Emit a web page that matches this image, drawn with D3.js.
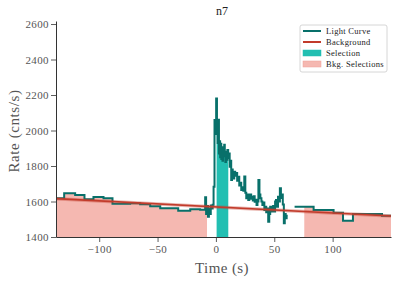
<!DOCTYPE html>
<html>
<head>
<meta charset="utf-8">
<script src="https://cdn.jsdelivr.net/npm/d3@7"></script>
<style>
  body { margin: 0; background: #fff; }
  svg { font-family: "Liberation Serif", "DejaVu Serif", serif; }
</style>
</head>
<body>
<div id="chart"></div>
<script>
const width = 397;
const height = 281;

// light curve: bin start times (s), rates (cnts/s), last bin end
const preTimes = [-137, -130, -120.6, -112.6, -104.9, -96.3, -88.6, -73.5, -64.9, -56.3, -47.7, -32.3, -22, -13.5,
  -9.2, -8.4, -7.6, -6.8, -6.0, -5.2, -4.4, -3.6, -2.8, -2.0, -1.2, -0.4, 0.2, 0.9, 1.5, 2.1, 2.6, 3.1, 3.6, 4.1,
  4.6, 5.1, 5.6, 6.1, 6.6, 7.1, 7.6, 8.1, 8.6, 9.2, 9.8, 10.5, 11.2, 11.8, 12.5, 13.1, 13.8, 14.4, 15.1, 15.7,
  16.5, 17.4, 18.2, 19.1, 20.0, 20.8, 21.7, 22.6, 23.5, 24.3, 25.2, 26.0, 26.9, 27.7, 28.6, 29.4, 30.2, 30.9,
  31.6, 32.4, 33.2, 34.0, 34.8, 35.6, 36.4, 37.3, 38.1, 39.0, 39.8, 40.6, 41.5, 42.3, 43.1, 44.0, 44.8, 45.7,
  46.5, 47.3, 48.2, 49.0, 49.8, 50.7, 51.5, 52.3, 53.2, 54.0, 54.8, 55.7, 56.5, 57.3, 58.2, 59.0, 59.8, 60.6];
const preRates = [1618, 1646, 1637, 1612, 1625, 1618, 1588, 1590, 1584, 1573, 1562, 1548, 1556, 1554,
  1624, 1530, 1575, 1514, 1560, 1530, 1578, 1560, 1582, 1683, 2059, 1980, 2181, 2014, 1930, 2060, 1870, 1940,
  1850, 1925, 1840, 1905, 1830, 1900, 1860, 1920, 1855, 1822, 1880, 1835, 1890, 1845, 1870, 1796, 1830, 1721,
  1780, 1760, 1730, 1768, 1745, 1760, 1717, 1740, 1690, 1705, 1665, 1680, 1660, 1741, 1650, 1619, 1640, 1608,
  1625, 1640, 1615, 1627, 1605, 1630, 1599, 1610, 1580, 1600, 1721, 1640, 1619, 1600, 1580, 1595, 1552, 1570,
  1540, 1560, 1486, 1530, 1571, 1555, 1543, 1575, 1543, 1600, 1608, 1570, 1627, 1600, 1674, 1620, 1640, 1583,
  1477, 1530, 1505, 1520];
const preEnd = 61.5;

const postTimes = [67.4, 83.7, 100.8, 108.9, 117.4, 142.3];
const postRates = [1571, 1552, 1537, 1492, 1530, 1520];
const postEnd = 150;

// background fit (linear), selections
const bkgTimes = [-137, 150];
const bkgRates = [1616, 1518];
const bkgSelections = [[-137, -7.7], [75.7, 150]];
const srcSelection = [0.6, 10.6];

const yTicks = [1400, 1600, 1800, 2000, 2200, 2400, 2600];
const xTicks = [-100, -50, 0, 50, 100];

const legendNames = ['Light Curve', 'Background', 'Selection', 'Bkg. Selections'];

const cLC = '#08706a', cBkg = '#c23b2b', cSel = '#22bfb2', cBkgSel = '#f5b8b1';

let svg = d3.select('#chart').append('svg')
  .attr('width', width)
  .attr('height', height);

let x = d3.scaleLinear().domain([-137, 150]).range([56, 391]);
let y = d3.scaleLinear().domain([1400, 2617]).range([237, 21]);

function toPts(times, rates, end) {
  let pts = times.map((t, i) => ({ t: t, r: rates[i] }));
  pts.push({ t: end, r: rates[rates.length - 1] });
  return pts;
}
let segs = [toPts(preTimes, preRates, preEnd), toPts(postTimes, postRates, postEnd)];

let defs = svg.append('defs');
bkgSelections.forEach((s, i) => {
  defs.append('clipPath').attr('id', 'bk' + i).append('rect')
    .attr('x', x(s[0])).attr('y', 0)
    .attr('width', x(s[1]) - x(s[0])).attr('height', y(1400));
});
defs.append('clipPath').attr('id', 'sel').append('rect')
  .attr('x', x(srcSelection[0])).attr('y', 0)
  .attr('width', x(srcSelection[1]) - x(srcSelection[0])).attr('height', y(1400));

let area = d3.area().curve(d3.curveStepAfter)
  .x(d => x(d.t)).y0(y(1400)).y1(d => y(d.r));
let line = d3.line().curve(d3.curveStepAfter)
  .x(d => x(d.t)).y(d => y(d.r));

// bkg selections fill
bkgSelections.forEach((s, i) => {
  let g = svg.append('g').attr('clip-path', 'url(#bk' + i + ')');
  segs.forEach(seg => {
    g.append('path').attr('d', area(seg))
      .style('fill', cBkgSel)
      .style('stroke', cBkgSel).style('stroke-width', 0.5);
  });
});

// source selection fill
let gs = svg.append('g').attr('clip-path', 'url(#sel)');
segs.forEach(seg => {
  gs.append('path').attr('d', area(seg)).style('fill', cSel);
});

// light curve
segs.forEach(seg => {
  svg.append('path').attr('d', line(seg))
    .style('fill', 'none')
    .style('stroke', cLC)
    .style('stroke-width', 2)
    .style('stroke-linejoin', 'miter');
});

// background model
let bkgPts = bkgTimes.map((t, i) => ({ t: t, r: bkgRates[i] }));
let bline = d3.line().x(d => x(d.t)).y(d => y(d.r));
svg.append('path').attr('d', bline(bkgPts))
  .style('fill', 'none').style('stroke', cBkg)
  .style('stroke-opacity', 0.35).style('stroke-width', 3.5);
svg.append('path').attr('d', bline(bkgPts))
  .style('fill', 'none').style('stroke', cBkg).style('stroke-width', 1.6);

// axes
let yAxis = svg.append('g').attr('transform', 'translate(56,0)')
  .call(d3.axisLeft(y).tickValues(yTicks).tickSize(5).tickSizeOuter(0).tickFormat(d3.format('d')));
let xAxis = svg.append('g').attr('transform', 'translate(0,237)')
  .call(d3.axisBottom(x).tickValues(xTicks).tickSize(5).tickSizeOuter(0));
[yAxis, xAxis].forEach(a => {
  a.select('.domain').style('stroke', '#333').style('stroke-width', 1);
  a.selectAll('.tick line').style('stroke', '#333').style('stroke-width', 0.8);
  a.selectAll('.tick text').style('fill', '#555').style('font-size', '11px')
    .style('letter-spacing', '0.4px')
    .style('font-family', '"Liberation Serif", serif');
});
yAxis.selectAll('.tick text').attr('x', -7);
xAxis.selectAll('.tick text').attr('y', 8);

// titles
svg.append('text').text('n7')
  .attr('x', 222).attr('y', 15)
  .attr('text-anchor', 'middle')
  .style('font-size', '12px').style('fill', '#222');
svg.append('text').text('Time (s)')
  .attr('x', 222).attr('y', 273)
  .attr('text-anchor', 'middle')
  .style('font-size', '15px').style('letter-spacing', '0.4px').style('fill', '#555');
svg.append('text').text('Rate (cnts/s)')
  .attr('transform', 'translate(19,131) rotate(-90)')
  .attr('text-anchor', 'middle')
  .style('font-size', '15px').style('letter-spacing', '0.6px').style('fill', '#555');

// legend
let lg = svg.append('g').attr('transform', 'translate(300,25)');
lg.append('rect').attr('width', 87).attr('height', 47).attr('rx', 2)
  .style('fill', '#fff').style('fill-opacity', 0.85)
  .style('stroke', '#ccc').style('stroke-width', 0.8);
legendNames.forEach((name, i) => {
  let yy = 6 + i * 11;
  if (i < 2) {
    lg.append('line').attr('x1', 3).attr('x2', 21).attr('y1', yy).attr('y2', yy)
      .style('stroke', i === 0 ? cLC : cBkg).style('stroke-width', 2);
  } else {
    lg.append('rect').attr('x', 3).attr('y', yy - 3).attr('width', 18).attr('height', 6)
      .style('fill', i === 2 ? cSel : cBkgSel)
      .style('stroke', i === 2 ? cSel : '#f0a098').style('stroke-width', 0.5);
  }
  lg.append('text').text(name)
    .attr('x', 26).attr('y', yy + 3)
    .style('font-size', '8.5px').style('letter-spacing', '0.3px').style('fill', '#222');
});
</script>
</body>
</html>
